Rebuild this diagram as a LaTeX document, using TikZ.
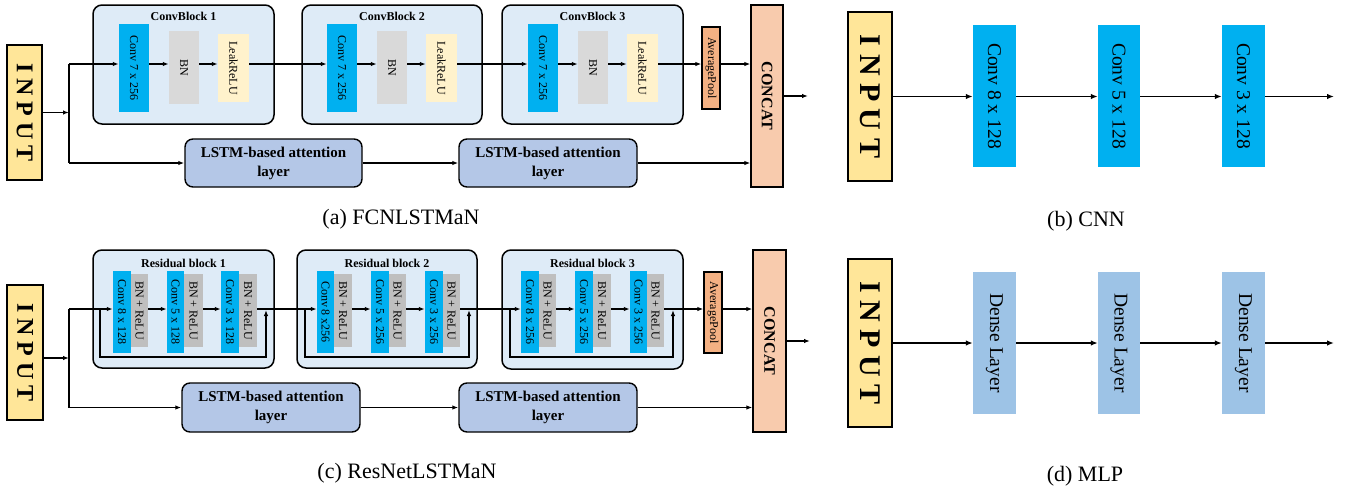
\documentclass[tikz,border=0pt]{standalone}
\usepackage{fontspec}
\setmainfont{Liberation Serif}
\usetikzlibrary{arrows.meta,calc}
\definecolor{inpc}{HTML}{FFE699}
\definecolor{grpc}{HTML}{DEEBF7}
\definecolor{convc}{HTML}{00B0F0}
\definecolor{bnc}{HTML}{D9D9D9}
\definecolor{lrc}{HTML}{FFF2CC}
\definecolor{bnrc}{HTML}{BFBFBF}
\definecolor{avgc}{HTML}{F4B183}
\definecolor{catc}{HTML}{F8CBAD}
\definecolor{lstmc}{HTML}{B4C7E7}
\definecolor{densec}{HTML}{9DC3E6}
\newcommand\mkbox[7]{\node[#2,minimum width={(#5-(#3))*1pt},minimum height={(#6-(#4))*1pt}] (#1) at ({(#3+#5)/2},{(#4+#6)/2}) {#7};}
\newcommand\vtext[1]{\rotatebox{-90}{#1}}
\tikzset{
  inpbox/.style={draw,line width=1.6pt,fill=inpc,inner sep=0pt,font=\fontsize{24}{24}\selectfont\bfseries},
  inpbig/.style={inpbox,font=\fontsize{30}{30}\selectfont\bfseries},
  grpbox/.style={draw,line width=1.5pt,rounded corners=9pt,fill=grpc,inner sep=0pt},
  lyr/.style={inner sep=0pt,font=\fontsize{12}{12}\selectfont},
  convbox/.style={lyr,fill=convc},
  bnbox/.style={lyr,fill=bnc},
  lrbox/.style={lyr,fill=lrc},
  bnrbox/.style={lyr,fill=bnrc},
  avgbox/.style={lyr,draw,line width=1.3pt,fill=avgc},
  catbox/.style={draw,line width=1.3pt,fill=catc,inner sep=0pt,font=\fontsize{16}{16}\selectfont\bfseries},
  lstmbox/.style={draw,line width=1.4pt,rounded corners=8pt,fill=lstmc,inner sep=0pt,align=center,font=\fontsize{15}{19}\selectfont\bfseries},
  bigconv/.style={inner sep=0pt,fill=convc,font=\fontsize{19.5}{19.5}\selectfont},
  densebox/.style={inner sep=0pt,fill=densec,font=\fontsize{19.5}{19.5}\selectfont},
  ttlbox/.style={inner sep=0pt,font=\fontsize{12}{12}\selectfont\bfseries},
  captext/.style={inner sep=0pt,font=\fontsize{22}{22}\selectfont},
  arr/.style={-{Latex[length=6pt,width=4.5pt]},line width=1.2pt},
  bigarr/.style={-{Latex[length=7pt,width=5.5pt]},line width=1.6pt},
  plainln/.style={line width=1.2pt}
}
\begin{document}
\begin{tikzpicture}[x=1pt,y=-1pt]
\useasboundingbox (0,0) rectangle (1355,493);
% ================= (a) FCNLSTMaN =================
\mkbox{inpa}{inpbox}{7}{45}{42}{180}{\vtext{I N P U T}}
\mkbox{g1}{grpbox}{93}{5}{274}{124}{}
\mkbox{g2}{grpbox}{302}{5}{482}{124}{}
\mkbox{g3}{grpbox}{502}{5}{683}{124}{}
\node[ttlbox] (t1) at (183.5,16) {ConvBlock 1};
\node[ttlbox] (t2) at (392,16) {ConvBlock 2};
\node[ttlbox] (t3) at (592.5,16) {ConvBlock 3};
\mkbox{ca1}{convbox}{119}{24}{149}{112}{\vtext{Conv 7 x 256}}
\mkbox{ba1}{bnbox}{169}{31}{199}{104}{\vtext{BN}}
\mkbox{la1}{lrbox}{218}{34}{249}{102}{\vtext{LeakReLU}}
\mkbox{ca2}{convbox}{327}{24}{357}{112}{\vtext{Conv 7 x 256}}
\mkbox{ba2}{bnbox}{377}{31}{407}{104}{\vtext{BN}}
\mkbox{la2}{lrbox}{426}{34}{457}{102}{\vtext{LeakReLU}}
\mkbox{ca3}{convbox}{528}{24}{558}{112}{\vtext{Conv 7 x 256}}
\mkbox{ba3}{bnbox}{578}{31}{608}{104}{\vtext{BN}}
\mkbox{la3}{lrbox}{627}{34}{658}{102}{\vtext{LeakReLU}}
\mkbox{apa}{avgbox}{702}{27}{720}{109}{\vtext{AveragePool}}
\mkbox{cata}{catbox}{751}{5}{783}{187}{\vtext{CONCAT}}
\mkbox{lsa1}{lstmbox}{185}{139}{362}{187}{LSTM-based attention\\layer}
\mkbox{lsa2}{lstmbox}{459}{139}{637}{187}{LSTM-based attention\\layer}
\coordinate (ja) at (69,112.5);
\coordinate (jat) at (69,64);
\coordinate (jab) at (69,163);
\coordinate (outa) at (808,96);
\draw[arr] (inpa.east |- ja) -- (ja);
\draw[plainln] (jat) -- (jab);
\draw[arr] (jat) -- (jat -| ca1.west);
\draw[arr] (jat -| ca1.east) -- (jat -| ba1.west);
\draw[arr] (jat -| ba1.east) -- (jat -| la1.west);
\draw[arr] (jat -| la1.east) -- (jat -| ca2.west);
\draw[arr] (jat -| ca2.east) -- (jat -| ba2.west);
\draw[arr] (jat -| ba2.east) -- (jat -| la2.west);
\draw[arr] (jat -| la2.east) -- (jat -| ca3.west);
\draw[arr] (jat -| ca3.east) -- (jat -| ba3.west);
\draw[arr] (jat -| ba3.east) -- (jat -| la3.west);
\draw[arr] (jat -| la3.east) -- (jat -| apa.west);
\draw[arr] (jat -| apa.east) -- (jat -| cata.west);
\draw[arr] (cata.east |- outa) -- (outa);
\draw[arr] (jab) -- (lsa1.west);
\draw[arr] (lsa1.east) -- (lsa2.west);
\draw[arr] (lsa2.east) -- (lsa2.east -| cata.west);
\node[captext] (capa) at (401,219) {(a) FCNLSTMaN};
% ================= (b) CNN =================
\mkbox{inpb}{inpbig}{848}{12}{892}{181}{\vtext{I N P U T}}
\mkbox{cb1}{bigconv}{973}{25}{1016}{167}{\vtext{Conv 8 x 128}}
\mkbox{cb2}{bigconv}{1098}{25}{1140}{167}{\vtext{Conv 5 x 128}}
\mkbox{cb3}{bigconv}{1222}{25}{1265}{167}{\vtext{Conv 3 x 128}}
\coordinate (outb) at (1334,96.5);
\draw[bigarr] (inpb.east |- outb) -- (outb -| cb1.west);
\draw[bigarr] (cb1.east |- outb) -- (outb -| cb2.west);
\draw[bigarr] (cb2.east |- outb) -- (outb -| cb3.west);
\draw[bigarr] (cb3.east |- outb) -- (outb);
\node[captext] (capb) at (1086,221) {(b) CNN};
% ================= (c) ResNetLSTMaN =================
\mkbox{inpc}{inpbox}{7}{285}{43}{420}{\vtext{I N P U T}}
\mkbox{r1}{grpbox}{93}{250}{274}{368}{}
\mkbox{r2}{grpbox}{297}{250}{477}{368}{}
\mkbox{r3}{grpbox}{502}{250}{683}{369}{}
\node[ttlbox] (rt1) at (183.5,263) {Residual block 1};
\node[ttlbox] (rt2) at (387,263) {Residual block 2};
\node[ttlbox] (rt3) at (592.5,263) {Residual block 3};
\mkbox{c11}{convbox}{113}{271}{131}{353}{\vtext{Conv 8 x 128}}
\mkbox{b11}{bnrbox}{131}{274}{148}{347}{\vtext{BN + ReLU}}
\mkbox{c12}{convbox}{167}{271}{184}{353}{\vtext{Conv 5 x 128}}
\mkbox{b12}{bnrbox}{184}{274}{203}{347}{\vtext{BN + ReLU}}
\mkbox{c13}{convbox}{221}{271}{239}{353}{\vtext{Conv 3 x 128}}
\mkbox{b13}{bnrbox}{239}{274}{257}{347}{\vtext{BN + ReLU}}
\mkbox{c21}{convbox}{317}{271}{334}{353}{\vtext{Conv 8 x256}}
\mkbox{b21}{bnrbox}{334}{274}{352}{347}{\vtext{BN + ReLU}}
\mkbox{c22}{convbox}{371}{271}{389}{353}{\vtext{Conv 5 x 256}}
\mkbox{b22}{bnrbox}{389}{274}{406}{347}{\vtext{BN + ReLU}}
\mkbox{c23}{convbox}{425}{271}{443}{353}{\vtext{Conv 3 x 256}}
\mkbox{b23}{bnrbox}{443}{274}{460}{347}{\vtext{BN + ReLU}}
\mkbox{c31}{convbox}{521}{271}{539}{353}{\vtext{Conv 8 x 256}}
\mkbox{b31}{bnrbox}{539}{274}{556}{347}{\vtext{BN + ReLU}}
\mkbox{c32}{convbox}{575}{271}{593}{353}{\vtext{Conv 5 x 256}}
\mkbox{b32}{bnrbox}{593}{274}{611}{347}{\vtext{BN + ReLU}}
\mkbox{c33}{convbox}{630}{271}{647}{353}{\vtext{Conv 3 x 256}}
\mkbox{b33}{bnrbox}{647}{274}{664}{347}{\vtext{BN + ReLU}}
\mkbox{apc}{avgbox}{704}{272}{722}{353}{\vtext{AveragePool}}
\mkbox{catc}{catbox}{753}{250}{786}{432}{\vtext{CONCAT}}
\mkbox{lsc1}{lstmbox}{182}{383}{360}{432}{LSTM-based attention\\layer}
\mkbox{lsc2}{lstmbox}{459}{383}{637}{432}{LSTM-based attention\\layer}
\coordinate (jc) at (69,358);
\coordinate (jct) at (69,309);
\coordinate (jcb) at (69,407.5);
\coordinate (outc) at (810,341);
\coordinate (s1a) at (100,309);
\coordinate (s1b) at (266,309);
\coordinate (s2a) at (305,309);
\coordinate (s2b) at (469,309);
\coordinate (s3a) at (510,309);
\coordinate (s3b) at (673,309);
\draw[arr] (inpc.east |- jc) -- (jc);
\draw[plainln] (jct) -- (jcb);
\draw[arr] (jct) -- (jct -| c11.west);
\draw[arr] (jct -| b11.east) -- (jct -| c12.west);
\draw[arr] (jct -| b12.east) -- (jct -| c13.west);
\draw[arr] (jct -| b13.east) -- (jct -| c21.west);
\draw[arr] (jct -| b21.east) -- (jct -| c22.west);
\draw[arr] (jct -| b22.east) -- (jct -| c23.west);
\draw[arr] (jct -| b23.east) -- (jct -| c31.west);
\draw[arr] (jct -| b31.east) -- (jct -| c32.west);
\draw[arr] (jct -| b32.east) -- (jct -| c33.west);
\draw[arr] (jct -| b33.east) -- (jct -| apc.west);
\draw[arr] (jct -| apc.east) -- (jct -| catc.west);
\draw[arr,shorten >=1pt] (s1a) -- ++(0,48) -| (s1b);
\draw[arr,shorten >=1pt] (s2a) -- ++(0,48) -| (s2b);
\draw[arr,shorten >=1pt] (s3a) -- ++(0,48) -| (s3b);
\draw[arr] (catc.east |- outc) -- (outc);
\draw[arr] (jcb) -- (jcb -| lsc1.west);
\draw[arr] (lsc1.east) -- (lsc2.west);
\draw[arr] (lsc2.east) -- (lsc2.east -| catc.west);
\node[captext] (capc) at (407,473) {(c) ResNetLSTMaN};
% ================= (d) MLP =================
\mkbox{inpd}{inpbig}{848}{259}{892}{427}{\vtext{I N P U T}}
\mkbox{d1}{densebox}{973}{272}{1016}{414}{\vtext{Dense Layer}}
\mkbox{d2}{densebox}{1098}{272}{1140}{414}{\vtext{Dense Layer}}
\mkbox{d3}{densebox}{1222}{272}{1265}{414}{\vtext{Dense Layer}}
\coordinate (outd) at (1334,343);
\draw[bigarr] (inpd.east |- outd) -- (outd -| d1.west);
\draw[bigarr] (d1.east |- outd) -- (outd -| d2.west);
\draw[bigarr] (d2.east |- outd) -- (outd -| d3.west);
\draw[bigarr] (d3.east |- outd) -- (outd);
\node[captext] (capd) at (1085,476) {(d) MLP};
\end{tikzpicture}
\end{document}
